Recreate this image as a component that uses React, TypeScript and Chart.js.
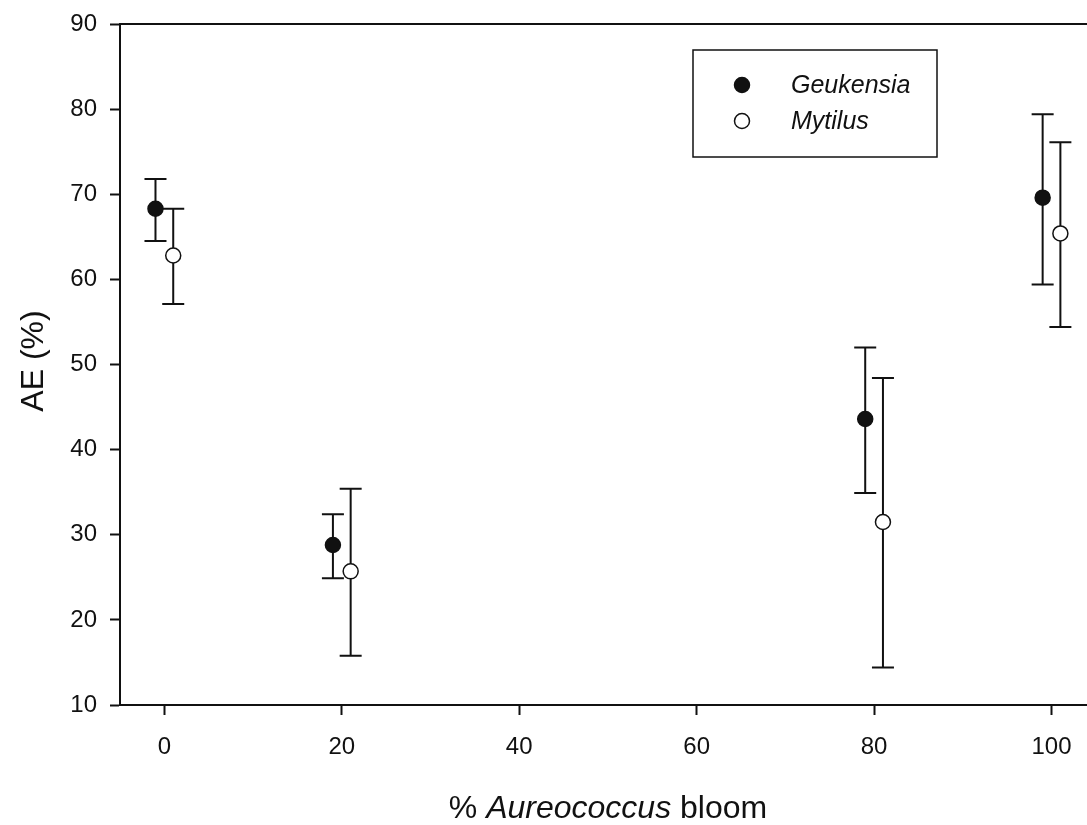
import React, { useEffect, useRef } from "react";
import { Chart, registerables } from "chart.js";

Chart.register(...registerables);

// ---- data ----
const xTickValues = [0, 20, 40, 60, 80, 100];
const yTickValues = [10, 20, 30, 40, 50, 60, 70, 80, 90];
const seriesNames = ["Geukensia", "Mytilus"];

// x positions are the bloom % categories (0, 20, 80, 100), dodged by 1 unit
const geukensiaX = [-1, 19, 79, 99];
const geukensiaMean = [68.3, 28.8, 43.6, 69.6];
const geukensiaUpper = [71.8, 32.4, 52.0, 79.4];
const geukensiaLower = [64.5, 24.9, 34.9, 59.4];

const mytilusX = [1, 21, 81, 101];
const mytilusMean = [62.8, 25.7, 31.5, 65.4];
const mytilusUpper = [68.3, 35.4, 48.4, 76.1];
const mytilusLower = [57.1, 15.8, 14.4, 54.4];

const xTitleParts = [
  { text: "% ", italic: false },
  { text: "Aureococcus", italic: true },
  { text: " bloom", italic: false },
];
const yTitle = "AE (%)";

const FONT = 'Arial, "Liberation Sans", sans-serif';
const INK = "#111";

export default function App() {
  const ref = useRef<HTMLCanvasElement>(null);

  useEffect(() => {
    const canvas = ref.current;
    if (!canvas) return;

    const errorBars = {
      id: "errorBars",
      beforeDatasetsDraw(chart: any) {
        const { ctx, scales } = chart;
        const x = scales.x;
        const y = scales.y;
        const sets = [
          [geukensiaX, geukensiaUpper, geukensiaLower],
          [mytilusX, mytilusUpper, mytilusLower],
        ];
        ctx.save();
        ctx.strokeStyle = INK;
        ctx.lineWidth = 2;
        const cap = 11;
        for (const [xs, up, lo] of sets) {
          xs.forEach((xv: number, i: number) => {
            const px = x.getPixelForValue(xv);
            const pu = y.getPixelForValue(up[i]);
            const pl = y.getPixelForValue(lo[i]);
            ctx.beginPath();
            ctx.moveTo(px, pu);
            ctx.lineTo(px, pl);
            ctx.moveTo(px - cap, pu);
            ctx.lineTo(px + cap, pu);
            ctx.moveTo(px - cap, pl);
            ctx.lineTo(px + cap, pl);
            ctx.stroke();
          });
        }
        ctx.restore();
      },
    };

    const decorations = {
      id: "decorations",
      afterDraw(chart: any) {
        const { ctx } = chart;
        ctx.save();
        // Legend box
        const bx = 693, by = 50, bw = 244, bh = 107;
        ctx.strokeStyle = INK;
        ctx.lineWidth = 1.5;
        ctx.fillStyle = "#fff";
        ctx.fillRect(bx, by, bw, bh);
        ctx.strokeRect(bx, by, bw, bh);
        const rows = [85, 121];
        const fills = [INK, "#fff"];
        rows.forEach((ry, i) => {
          ctx.beginPath();
          ctx.arc(742, ry, 7.5, 0, Math.PI * 2);
          ctx.fillStyle = fills[i];
          ctx.fill();
          ctx.lineWidth = 1.5;
          ctx.strokeStyle = INK;
          ctx.stroke();
          ctx.fillStyle = INK;
          ctx.font = `italic 25px ${FONT}`;
          ctx.textAlign = "left";
          ctx.textBaseline = "middle";
          ctx.fillText(seriesNames[i], 791, ry + 1);
        });

        // X title with mixed italics
        ctx.fillStyle = INK;
        ctx.textBaseline = "alphabetic";
        ctx.textAlign = "left";
        const widths = xTitleParts.map((p) => {
          ctx.font = `${p.italic ? "italic " : ""}32px ${FONT}`;
          return ctx.measureText(p.text).width;
        });
        const total = widths.reduce((a, b) => a + b, 0);
        let cx = 608 - total / 2;
        xTitleParts.forEach((p, i) => {
          ctx.font = `${p.italic ? "italic " : ""}32px ${FONT}`;
          ctx.fillText(p.text, cx, 818);
          cx += widths[i];
        });

        // Y title
        ctx.save();
        ctx.translate(43, 361);
        ctx.rotate(-Math.PI / 2);
        ctx.font = `32px ${FONT}`;
        ctx.textAlign = "center";
        ctx.textBaseline = "alphabetic";
        ctx.fillText(yTitle, 0, 0);
        ctx.restore();

        ctx.restore();
      },
    };

    const zeroPad = (s: any) => {
      s.paddingLeft = 0;
      s.paddingRight = 0;
      s.paddingTop = 0;
      s.paddingBottom = 0;
    };

    const chart = new Chart(canvas, {
      type: "scatter",
      data: {
        datasets: [
          {
            label: seriesNames[0],
            data: geukensiaX.map((x, i) => ({ x, y: geukensiaMean[i] })),
            backgroundColor: INK,
            borderColor: INK,
            borderWidth: 1.5,
            pointRadius: 7.5,
            pointHoverRadius: 7.5,
          },
          {
            label: seriesNames[1],
            data: mytilusX.map((x, i) => ({ x, y: mytilusMean[i] })),
            backgroundColor: "#fff",
            borderColor: INK,
            borderWidth: 1.5,
            pointRadius: 7.5,
            pointHoverRadius: 7.5,
          },
        ],
      },
      options: {
        animation: false,
        responsive: false,
        events: [],
        layout: { padding: 0, autoPadding: false },
        plugins: {
          legend: { display: false },
          tooltip: { enabled: false },
        },
        scales: {
          x: {
            type: "linear",
            position: "bottom",
            min: -5,
            max: 104,
            afterBuildTicks: (s: any) => {
              s.ticks = xTickValues.map((v) => ({ value: v }));
            },
            afterFit: (s: any) => {
              s.height = 120;
              zeroPad(s);
            },
            ticks: {
              font: { family: FONT, size: 24 },
              color: INK,
              padding: 18,
              maxRotation: 0,
              autoSkip: false,
            },
            grid: {
              display: true,
              drawOnChartArea: false,
              drawTicks: true,
              tickLength: 10,
              tickColor: INK,
              tickWidth: 2,
            },
            border: { display: true, color: INK, width: 2 },
          },
          x2: {
            type: "linear",
            position: "top",
            min: -5,
            max: 104,
            afterFit: (s: any) => {
              s.height = 24;
              zeroPad(s);
            },
            ticks: { display: false },
            grid: { display: false },
            border: { display: true, color: INK, width: 2 },
          },
          y: {
            type: "linear",
            position: "left",
            min: 10,
            max: 90,
            afterBuildTicks: (s: any) => {
              s.ticks = yTickValues.map((v) => ({ value: v }));
            },
            afterFit: (s: any) => {
              s.width = 120;
              zeroPad(s);
            },
            ticks: {
              font: { family: FONT, size: 24 },
              color: INK,
              padding: 13,
              autoSkip: false,
            },
            grid: {
              display: true,
              drawOnChartArea: false,
              drawTicks: true,
              tickLength: 10,
              tickColor: INK,
              tickWidth: 2,
            },
            border: { display: true, color: INK, width: 2 },
          },
        },
      } as any,
      plugins: [errorBars, decorations],
    });

    return () => chart.destroy();
  }, []);

  return (
    <div
      style={{
        position: "absolute",
        left: 0,
        top: 0,
        width: 1087,
        height: 825,
        overflow: "hidden",
        background: "#fff",
      }}
    >
      <canvas ref={ref} width={1087} height={825} style={{ display: "block" }} />
    </div>
  );
}
